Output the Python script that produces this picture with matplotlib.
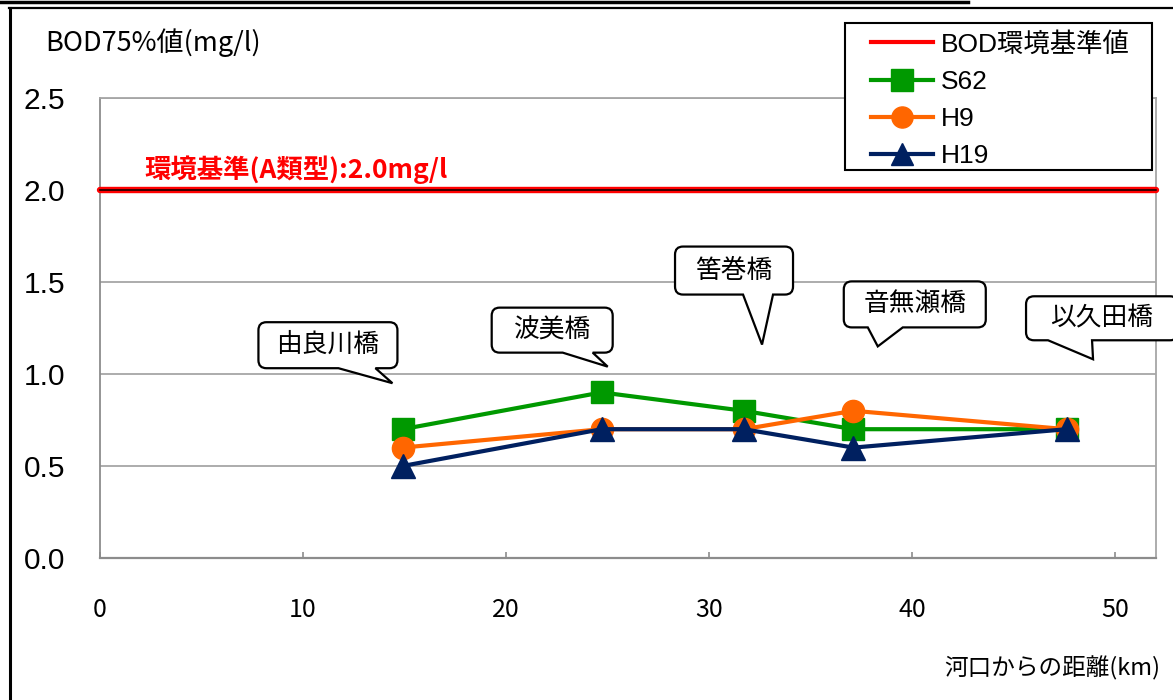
import matplotlib
matplotlib.use("Agg")
import matplotlib.pyplot as plt
from matplotlib.path import Path
from matplotlib.patches import PathPatch, Rectangle
from matplotlib.lines import Line2D
import matplotlib.transforms as mtransforms

# ---- data ----
distance_km = [14.9, 24.7, 31.7, 37.1, 47.6]
bridges = ["由良川橋", "波美橋", "筈巻橋", "音無瀬橋", "以久田橋"]
bod_s62 = [0.7, 0.9, 0.8, 0.7, 0.7]
bod_h9 = [0.6, 0.7, 0.7, 0.8, 0.7]
bod_h19 = [0.5, 0.7, 0.7, 0.6, 0.7]
standard_value = 2.0
series_labels = ["S62", "H9", "H19"]
standard_label = "BOD環境基準値"
standard_note = "環境基準(A類型):2.0mg/l"
x_ticks = [0, 10, 20, 30, 40, 50]
y_ticks = [0.0, 0.5, 1.0, 1.5, 2.0, 2.5]

# callout tips (km, value) pointing toward each bridge
callout_tips = [(14.4, 0.95), (25.0, 1.04), (32.6, 1.16), (38.3, 1.15), (48.9, 1.08)]

CJK = ["Noto Sans CJK JP", "DejaVu Sans"]
SANS = ["Liberation Sans", "Noto Sans CJK JP", "DejaVu Sans"]

W, H = 1173, 700
fig = plt.figure(figsize=(W / 100, H / 100), dpi=100)
fig.patch.set_facecolor("white")

ax = fig.add_axes([100 / W, 1 - 558 / H, 1056 / W, 460 / H])
ax.set_xlim(0, 52)
ax.set_ylim(0, 2.5)

grid_c = "#a6a6a6"
for s in ax.spines.values():
    s.set_color(grid_c)
    s.set_linewidth(1.3)
ax.spines["bottom"].set_color("#8c8c8c")
ax.spines["bottom"].set_linewidth(1.6)
ax.spines["left"].set_color("#8c8c8c")

ax.set_yticks(y_ticks)
ax.set_yticklabels([f"{v:.1f}" for v in y_ticks], fontfamily=SANS, fontsize=21.5)
ax.set_xticks(x_ticks)
ax.set_xticklabels([str(v) for v in x_ticks], fontfamily=CJK, fontsize=18)
ax.tick_params(axis="y", length=0, pad=25)
ax.tick_params(axis="x", direction="in", length=4, width=1.2, color="#8c8c8c", pad=28)
ax.yaxis.grid(True, color=grid_c, linewidth=1.3)
ax.set_axisbelow(True)

# standard line (red with dark core)
ax.axhline(standard_value, color="#ff0000", linewidth=4.6, zorder=3,
           clip_on=False, solid_capstyle="round")
ax.axhline(standard_value, color="#000000", linewidth=1.1, zorder=3.1, clip_on=False)
ax.text(2.2, standard_value + 0.035, standard_note, color="#ff0000", fontsize=19,
        fontweight="bold", fontfamily=CJK, va="bottom", ha="left")

ms = 16
l_s62, = ax.plot(distance_km, bod_s62, color="#009900", lw=3, marker="s",
                 markersize=ms, zorder=4, label=series_labels[0])
l_h9, = ax.plot(distance_km, bod_h9, color="#ff6600", lw=3, marker="o",
                markersize=ms, zorder=5, label=series_labels[1])
l_h19, = ax.plot(distance_km, bod_h19, color="#002060", lw=3, marker="^",
                 markersize=ms + 1, zorder=6, label=series_labels[2])

# ---- callouts (pixel geometry relative to the tip) ----
# (left, right, top, bottom, tail_base_left, tail_base_right), y measured upward
callout_boxes = [
    (-134, 5, 61, 15, -54, -17),
    (-116, 5, 59, 14, -45, -15),
    (-87, 31, 98, 50, -19, 11),
    (-34, 108, 65, 19, -10, 25),
    (-67, 85, 63, 19, -45, -1),
]


def callout_path(L, R, T, B, b1, b2, r=8):
    verts = [
        (L + r, T), (R - r, T),
        (R, T), (R, T - r),
        (R, B + r),
        (R, B), (R - r, B),
        (b2, B), (0, 0), (b1, B),
        (L + r, B),
        (L, B), (L, B + r),
        (L, T - r),
        (L, T), (L + r, T),
        (L + r, T),
    ]
    codes = [
        Path.MOVETO, Path.LINETO,
        Path.CURVE3, Path.CURVE3,
        Path.LINETO,
        Path.CURVE3, Path.CURVE3,
        Path.LINETO, Path.LINETO, Path.LINETO,
        Path.LINETO,
        Path.CURVE3, Path.CURVE3,
        Path.LINETO,
        Path.CURVE3, Path.CURVE3,
        Path.CLOSEPOLY,
    ]
    return Path(verts, codes)


for name, tip, box in zip(bridges, callout_tips, callout_boxes):
    tx, ty = ax.transData.transform(tip)
    L, R, T, B, b1, b2 = box
    tr = mtransforms.Affine2D().translate(tx, ty)
    patch = PathPatch(callout_path(L, R, T, B, b1, b2), facecolor="white",
                      edgecolor="black", linewidth=1.6, transform=tr, zorder=7)
    fig.add_artist(patch)
    fig.text(tx + (L + R) / 2, ty + (T + B) / 2, name, fontsize=18.5,
             fontfamily=CJK, ha="center", va="center",
             transform=mtransforms.IdentityTransform(), zorder=8)

# ---- titles ----
fig.text(45 / W, 1 - 43 / H, "BOD75%値(mg/l)", fontsize=19.5, fontfamily=CJK,
         ha="left", va="center")
fig.text(1160 / W, 1 - 668 / H, "河口からの距離(km)", fontsize=17,
         fontfamily=CJK, ha="right", va="center")

# ---- legend ----
fig.add_artist(Rectangle((845 / W, 1 - 170 / H), 307 / W, 147 / H,
                         transform=fig.transFigure, facecolor="white",
                         edgecolor="black", linewidth=1.5, zorder=8.5))
std_handle = Line2D([], [], color="#ff0000", lw=3)
leg = fig.legend([std_handle, l_s62, l_h9, l_h19],
                 [standard_label] + series_labels,
                 loc="upper left", bbox_to_anchor=(871 / W, 1 - 32 / H),
                 borderaxespad=0, borderpad=0, frameon=False,
                 prop={"family": SANS, "size": 19},
                 handlelength=2.35, handletextpad=0.3, labelspacing=0.5,
                 markerscale=0.95)
leg.set_zorder(9)

# ---- outer frame ----
fig.add_artist(Line2D([0, 968 / W], [1 - 1.5 / H, 1 - 1.5 / H], color="black", lw=2.5))
fig.add_artist(Line2D([9 / W, 1], [1 - 8 / H, 1 - 8 / H], color="black", lw=1.6))
fig.add_artist(Line2D([9.5 / W, 9.5 / W], [0, 1 - 8 / H], color="black", lw=2.2))

fig.savefig("out.png", dpi=100)
